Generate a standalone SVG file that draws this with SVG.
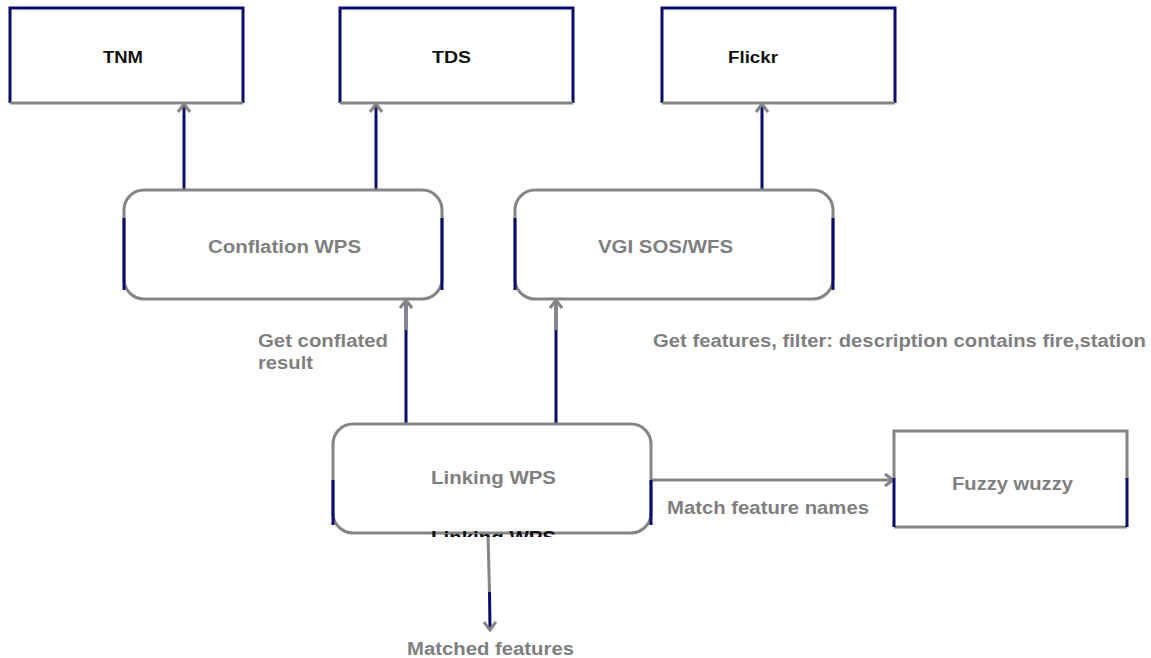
<svg xmlns="http://www.w3.org/2000/svg" width="1151" height="658" viewBox="0 0 1151 658">
<style>
.t{font-family:"Liberation Sans",Arial,sans-serif;font-weight:bold;font-size:18px}
.s{font-size:16px}
.g{fill:#7f7f7f}
.k{fill:#111}
.box{fill:#fff;stroke:none}
.nv{stroke:#0c0c6c;stroke-width:3;fill:none}
.gr{stroke:#858585;stroke-width:3;fill:none}
</style>
<defs>
<marker id="ah" markerUnits="userSpaceOnUse" markerWidth="24" markerHeight="24" viewBox="-12 -12 24 24" refX="0" refY="0" orient="auto" overflow="visible">
<path d="M -8 -6 L 0 0 L -8 6" fill="none" stroke="#858585" stroke-width="3"/>
</marker>
<clipPath id="hid"><rect x="420" y="527" width="150" height="10"/></clipPath>
</defs>
<rect width="1151" height="658" fill="#fff"/>

<g id="connectors">
<line class="nv" x1="184" y1="190" x2="184" y2="104" marker-end="url(#ah)"/>
<line class="nv" x1="376" y1="190" x2="376" y2="104" marker-end="url(#ah)"/>
<line class="nv" x1="762" y1="190" x2="762" y2="104" marker-end="url(#ah)"/>
<line class="nv" x1="406" y1="424" x2="406" y2="300"/>
<line class="gr" x1="406" y1="330" x2="406" y2="300" marker-end="url(#ah)"/>
<line class="nv" x1="556" y1="424" x2="556" y2="300"/>
<line class="gr" x1="556" y1="330" x2="556" y2="300" marker-end="url(#ah)"/>
<line class="gr" x1="652" y1="480" x2="893" y2="480" marker-end="url(#ah)"/>
<line class="gr" x1="488" y1="534" x2="489.5" y2="593"/>
<line class="nv" x1="489.5" y1="592" x2="490" y2="630" marker-end="url(#ah)"/>
</g>

<g id="tnm">
<rect class="box" x="10" y="8" width="233" height="95"/>
<path class="nv" d="M10 103 V8 H243 V103"/>
<path class="gr" d="M10 103 H243"/>
<text class="t s k" x="103" y="63" textLength="40" lengthAdjust="spacingAndGlyphs">TNM</text>
</g>
<g id="tds">
<rect class="box" x="340" y="8" width="233" height="95"/>
<path class="nv" d="M340 103 V8 H573 V103"/>
<path class="gr" d="M340 103 H573"/>
<text class="t s k" x="432" y="63" textLength="39" lengthAdjust="spacingAndGlyphs">TDS</text>
</g>
<g id="flickr">
<rect class="box" x="662" y="8" width="233" height="95"/>
<path class="nv" d="M662 103 V8 H895 V103"/>
<path class="gr" d="M662 103 H895"/>
<text class="t s k" x="728" y="63" textLength="50" lengthAdjust="spacingAndGlyphs">Flickr</text>
</g>

<g id="conflation">
<rect x="124" y="190" width="318" height="109" rx="20" fill="#fff" class="gr"/>
<path class="nv" d="M124 218 V290 M442 218 V290"/>
<text class="t g" x="208" y="253" textLength="153" lengthAdjust="spacingAndGlyphs">Conflation WPS</text>
</g>
<g id="vgi">
<rect x="515" y="190" width="318" height="109" rx="20" fill="#fff" class="gr"/>
<path class="nv" d="M515 218 V290 M833 218 V290"/>
<text class="t g" x="598" y="253" textLength="135" lengthAdjust="spacingAndGlyphs">VGI SOS/WFS</text>
</g>
<g id="linking">
<rect x="333" y="424" width="318" height="109" rx="20" fill="#fff" class="gr"/>
<path class="nv" d="M333 480 V525 M651 480 V525"/>
<text class="t g" x="431" y="484" textLength="125" lengthAdjust="spacingAndGlyphs">Linking WPS</text>
<text class="t k" x="431" y="544" textLength="125" lengthAdjust="spacingAndGlyphs" clip-path="url(#hid)">Linking WPS</text>
</g>
<g id="fuzzy">
<rect class="box" x="894" y="431" width="233" height="96"/>
<path class="gr" d="M894 479 V431 H1127 V479 M894 527 H1127"/>
<path class="nv" d="M894 478 V527 M1127 478 V527"/>
<text class="t g" x="952" y="490" textLength="121" lengthAdjust="spacingAndGlyphs">Fuzzy wuzzy</text>
</g>

<g id="labels">
<text class="t g" x="258" y="347" textLength="130" lengthAdjust="spacingAndGlyphs">Get conflated</text>
<text class="t g" x="258" y="369" textLength="55" lengthAdjust="spacingAndGlyphs">result</text>
<text class="t g" x="653" y="347" textLength="493" lengthAdjust="spacingAndGlyphs">Get features, filter:  description contains fire,station</text>
<text class="t g" x="667" y="514" textLength="202" lengthAdjust="spacingAndGlyphs">Match feature names</text>
<text class="t g" x="407" y="655" textLength="167" lengthAdjust="spacingAndGlyphs">Matched features</text>
</g>
</svg>
